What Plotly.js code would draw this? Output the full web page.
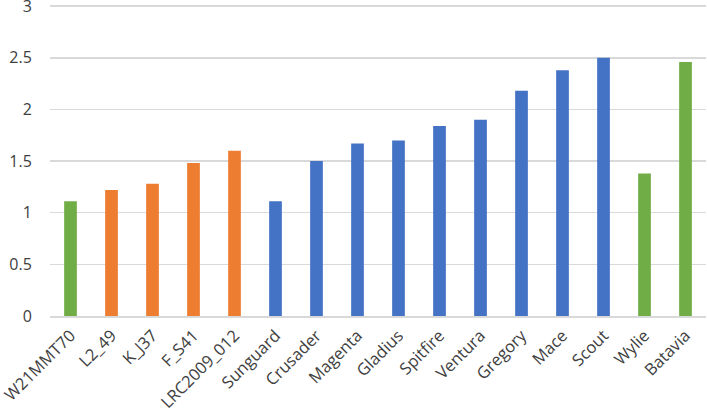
<!DOCTYPE html>
<html>
<head>
<meta charset="utf-8">
<script src="https://cdn.plot.ly/plotly-3.0.1.min.js"></script>
<style>html,body{margin:0;padding:0;background:#fff;}#chart{width:707px;height:413px;}</style>
</head>
<body>
<div id="chart"></div>
<script>
const categories = ["W21MMT70","L2_49","K_J37","F_S41","LRC2009_012","Sunguard","Crusader","Magenta","Gladius","Spitfire","Ventura","Gregory","Mace","Scout","Wylie","Batavia"];
const values = [1.11, 1.22, 1.28, 1.48, 1.60, 1.11, 1.50, 1.67, 1.70, 1.84, 1.90, 2.18, 2.38, 2.50, 1.38, 2.46];
const groups = ["green","orange","orange","orange","orange","blue","blue","blue","blue","blue","blue","blue","blue","blue","green","green"];
const palette = {green:"#70AD47", orange:"#ED7D31", blue:"#4472C4"};
const yTicks = [0, 0.5, 1, 1.5, 2, 2.5, 3];

const trace = {
  type: "bar",
  x: categories,
  y: values,
  marker: {color: groups.map(g => palette[g])},
  hoverinfo: "x+y"
};

const layout = {
  width: 707, height: 413,
  margin: {l: 50, r: 1, t: 3, b: 97},
  paper_bgcolor: "#fff", plot_bgcolor: "#fff",
  bargap: 0.69,
  showlegend: false,
  font: {family: "Open Sans, sans-serif", size: 14, color: "#404040"},
  xaxis: {
    type: "category",
    tickangle: -45,
    showline: true, linecolor: "#d9d9d9", linewidth: 1.5,
    showgrid: false, zeroline: false,
    ticks: "outside", ticklen: 2, tickcolor: "rgba(0,0,0,0)",
    tickfont: {size: 16.5, color: "#404040"}
  },
  yaxis: {
    range: [0, 3.03],
    tickvals: yTicks,
    ticktext: yTicks.map(String),
    ticklabeloverflow: "allow",
    showgrid: true, gridcolor: "#d9d9d9", gridwidth: 1.5,
    zeroline: false, showline: false,
    ticks: "outside", ticklen: 14, tickcolor: "rgba(0,0,0,0)",
    tickfont: {size: 16, color: "#404040"}
  }
};

Plotly.newPlot("chart", [trace], layout, {displayModeBar: false, staticPlot: true});
</script>
</body>
</html>
